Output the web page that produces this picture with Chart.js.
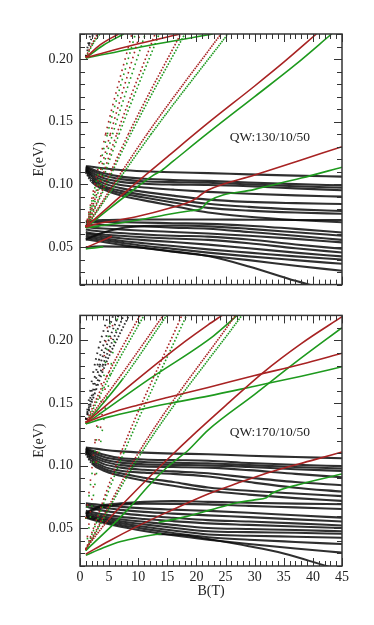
<!DOCTYPE html>
<html>
<head>
<meta charset="utf-8">
<title>Landau levels QW</title>
<script src="https://cdn.jsdelivr.net/npm/chart.js@4.4.1/dist/chart.umd.min.js"></script>
<style>
  html, body { margin: 0; padding: 0; background: #fff; }
  body { width: 374px; height: 625px; position: relative; overflow: hidden; }
  canvas { position: absolute; left: 0; }
  #topChart { top: 0; }
  #botChart { top: 300px; }
</style>
</head>
<body>
<canvas id="topChart" width="374" height="300"></canvas>
<canvas id="botChart" width="374" height="325"></canvas>
<script>
// Axis ticks
const xTicks = [0, 5, 10, 15, 20, 25, 30, 35, 40, 45];
const yTicks = [0.05, 0.10, 0.15, 0.20];

const holeB = [1, 2, 4, 7, 11, 16, 22, 29, 37, 45];

// QW:130/10/50 - black levels, E (eV) at holeB
const topBlack = [
  [0.1145, 0.1140, 0.1128, 0.1115, 0.1105, 0.1097, 0.1090, 0.1080, 0.1070, 0.1062],
  [0.1140, 0.1122, 0.1090, 0.1062, 0.1045, 0.1035, 0.1028, 0.1015, 0.1002, 0.0992],
  [0.1136, 0.1110, 0.1072, 0.1042, 0.1025, 0.1018, 0.1013, 0.1000, 0.0985, 0.0973],
  [0.1130, 0.1095, 0.1050, 0.1020, 0.1005, 0.0998, 0.0995, 0.0985, 0.0968, 0.0953],
  [0.1124, 0.1080, 0.1030, 0.0995, 0.0975, 0.0958, 0.0940, 0.0925, 0.0912, 0.0902],
  [0.1117, 0.1065, 0.1010, 0.0970, 0.0940, 0.0910, 0.0878, 0.0860, 0.0850, 0.0843],
  [0.1110, 0.1050, 0.0990, 0.0948, 0.0915, 0.0880, 0.0845, 0.0820, 0.0800, 0.0787],
  [0.1102, 0.1035, 0.0975, 0.0930, 0.0895, 0.0855, 0.0812, 0.0790, 0.0775, 0.0766],
  [0.1095, 0.1020, 0.0960, 0.0912, 0.0872, 0.0828, 0.0775, 0.0742, 0.0716, 0.0697],
  [0.0705, 0.0710, 0.0715, 0.0718, 0.0720, 0.0720, 0.0720, 0.0718, 0.0716, 0.0715],
  [0.0695, 0.0700, 0.0700, 0.0698, 0.0695, 0.0690, 0.0685, 0.0670, 0.0645, 0.0616],
  [0.0680, 0.0680, 0.0675, 0.0670, 0.0665, 0.0655, 0.0646, 0.0620, 0.0590, 0.0557],
  [0.0660, 0.0655, 0.0648, 0.0640, 0.0630, 0.0620, 0.0608, 0.0590, 0.0565, 0.0537],
  [0.0640, 0.0632, 0.0622, 0.0612, 0.0600, 0.0590, 0.0583, 0.0560, 0.0520, 0.0486],
  [0.0620, 0.0610, 0.0600, 0.0590, 0.0578, 0.0568, 0.0557, 0.0530, 0.0490, 0.0456],
  [0.0605, 0.0600, 0.0585, 0.0570, 0.0555, 0.0540, 0.0519, 0.0490, 0.0455, 0.0425],
  [0.0590, 0.0585, 0.0570, 0.0550, 0.0530, 0.0508, 0.0481, 0.0455, 0.0425, 0.0400],
  [0.0575, 0.0570, 0.0555, 0.0535, 0.0510, 0.0485, 0.0455, 0.0425, 0.0395, 0.0366],
  [0.0560, 0.0555, 0.0540, 0.0518, 0.0492, 0.0462, 0.0430, 0.0395, 0.0350, 0.0310],
  [0.0560, 0.0580, 0.0615, 0.0650, 0.0668, 0.0672, 0.0665, 0.0645, 0.0618, 0.0590],
  [0.0500, 0.0502, 0.0505, 0.0503, 0.0492, 0.0465, 0.0428, 0.0345, 0.0230, 0.0130]
];

// QW:130/10/50 - electron-like levels as [B, E] points
const topRed = [
  [[1, 0.2012], [9, 0.2110], [17.2, 0.2200]],
  [[1, 0.2012], [3.5, 0.2115], [6.6, 0.2200]],
  [[1, 0.2015], [2.0, 0.2115], [3.0, 0.2200]],
  [[1, 0.0660], [4.4, 0.1400], [8.9, 0.2200]],
  [[1, 0.0660], [5.2, 0.1400], [10.3, 0.2200]],
  [[1, 0.0660], [6.3, 0.1400], [12.9, 0.2200]],
  [[1, 0.0660], [8.3, 0.1400], [17.3, 0.2200]],
  [[1, 0.0660], [11.5, 0.1400], [24.2, 0.2200]],
  [[1, 0.0660], [5, 0.0825], [10, 0.1025], [15, 0.1220], [22, 0.1490], [30, 0.1785], [35, 0.1975], [40.6, 0.2200]],
  [[1, 0.0660], [3, 0.0685], [6, 0.0710], [10, 0.0745], [15, 0.0805], [19.5, 0.0875], [21, 0.0925], [22, 0.0955], [30, 0.1075], [38, 0.1195], [45, 0.1300]],
  [[1, 0.0495], [3, 0.0535], [5.5, 0.0585]]
];
const topGreen = [
  [[1, 0.2007], [12, 0.2110], [22.8, 0.2200]],
  [[1, 0.2008], [4, 0.2110], [7.5, 0.2200]],
  [[1, 0.2010], [2.2, 0.2120], [3.4, 0.2200]],
  [[1, 0.0655], [4.7, 0.1400], [9.5, 0.2200]],
  [[1, 0.0655], [5.6, 0.1400], [11.2, 0.2200]],
  [[1, 0.0655], [6.7, 0.1400], [13.6, 0.2200]],
  [[1, 0.0655], [8.7, 0.1400], [18.0, 0.2200]],
  [[1, 0.0655], [12.2, 0.1400], [25.4, 0.2200]],
  [[1, 0.0655], [5, 0.0805], [10, 0.0985], [12.5, 0.1070], [14, 0.1110], [16, 0.1185], [22, 0.1410], [30, 0.1700], [37, 0.1955], [43.2, 0.2200]],
  [[1, 0.0655], [3, 0.0665], [6, 0.0685], [10, 0.0715], [15, 0.0760], [19, 0.0790], [20.8, 0.0805], [22, 0.0863], [30, 0.0960], [38, 0.1050], [45, 0.1137]],
  [[1, 0.0485], [2.5, 0.0493], [4, 0.0502]]
];
const topDark = [
  [[1, 0.2020], [1.6, 0.2120], [2.3, 0.2200]],
  [[1, 0.2020], [1.4, 0.2120], [1.8, 0.2200]]
];

// QW:170/10/50 - black levels, E (eV) at holeB
const botBlack = [
  [0.1145, 0.1140, 0.1128, 0.1115, 0.1105, 0.1097, 0.1092, 0.1080, 0.1070, 0.1060],
  [0.1140, 0.1122, 0.1090, 0.1062, 0.1050, 0.1045, 0.1040, 0.1022, 0.1008, 0.0997],
  [0.1136, 0.1110, 0.1072, 0.1045, 0.1030, 0.1024, 0.1020, 0.1005, 0.0990, 0.0978],
  [0.1130, 0.1095, 0.1052, 0.1025, 0.1012, 0.1007, 0.1003, 0.0990, 0.0972, 0.0959],
  [0.1124, 0.1080, 0.1035, 0.1005, 0.0995, 0.0990, 0.0985, 0.0965, 0.0935, 0.0908],
  [0.1117, 0.1065, 0.1015, 0.0985, 0.0968, 0.0955, 0.0940, 0.0905, 0.0870, 0.0845],
  [0.1110, 0.1050, 0.0995, 0.0960, 0.0945, 0.0935, 0.0914, 0.0870, 0.0825, 0.0794],
  [0.1102, 0.1035, 0.0978, 0.0940, 0.0905, 0.0870, 0.0826, 0.0800, 0.0778, 0.0758],
  [0.1095, 0.1020, 0.0962, 0.0920, 0.0880, 0.0840, 0.0800, 0.0770, 0.0742, 0.0720],
  [0.0620, 0.0650, 0.0685, 0.0700, 0.0712, 0.0718, 0.0712, 0.0705, 0.0698, 0.0693],
  [0.0612, 0.0640, 0.0672, 0.0690, 0.0697, 0.0696, 0.0692, 0.0680, 0.0668, 0.0655],
  [0.0700, 0.0695, 0.0685, 0.0672, 0.0660, 0.0650, 0.0640, 0.0625, 0.0605, 0.0586],
  [0.0690, 0.0680, 0.0665, 0.0648, 0.0632, 0.0618, 0.0604, 0.0590, 0.0572, 0.0555],
  [0.0675, 0.0662, 0.0642, 0.0622, 0.0603, 0.0585, 0.0566, 0.0555, 0.0540, 0.0523],
  [0.0640, 0.0630, 0.0612, 0.0592, 0.0575, 0.0558, 0.0540, 0.0528, 0.0515, 0.0503],
  [0.0625, 0.0615, 0.0595, 0.0573, 0.0552, 0.0528, 0.0503, 0.0495, 0.0487, 0.0477],
  [0.0610, 0.0600, 0.0580, 0.0557, 0.0532, 0.0505, 0.0477, 0.0470, 0.0465, 0.0457],
  [0.0600, 0.0590, 0.0567, 0.0542, 0.0513, 0.0483, 0.0452, 0.0442, 0.0434, 0.0426],
  [0.0592, 0.0580, 0.0555, 0.0527, 0.0496, 0.0463, 0.0430, 0.0410, 0.0392, 0.0375],
  [0.0585, 0.0572, 0.0545, 0.0513, 0.0480, 0.0445, 0.0410, 0.0375, 0.0340, 0.0307]
];

// QW:170/10/50 - electron-like levels as [B, E] points
const botRed = [
  [[1, 0.1345], [5, 0.1418], [10, 0.1485], [15, 0.1545], [22, 0.1625], [30, 0.1720], [38, 0.1810], [45, 0.1898]],
  [[1, 0.1345], [10, 0.1695], [18, 0.1990], [22, 0.2125], [24.4, 0.2200]],
  [[1, 0.1345], [5, 0.1750], [10.3, 0.2200]],
  [[1, 0.1345], [7, 0.1720], [14.3, 0.2200]],
  [[1, 0.0330], [3, 0.1100], [5.8, 0.2200]],
  [[1, 0.0330], [7, 0.1100], [17.5, 0.2200]],
  [[1, 0.0330], [10, 0.1100], [26.7, 0.2200]],
  [[1, 0.0580], [2.6, 0.1200], [4.9, 0.2200]],
  [[1, 0.0340], [5, 0.0575], [10, 0.0820], [15, 0.1050], [20, 0.1270], [25, 0.1480], [31.5, 0.1746], [38, 0.1975], [45, 0.2190]],
  [[1, 0.0295], [5, 0.0400], [10, 0.0520], [15, 0.0630], [22, 0.0775], [27, 0.0860], [33, 0.0955], [40, 0.1045], [45, 0.1110]]
];
const botGreen = [
  [[1, 0.1335], [5, 0.1390], [10, 0.1445], [15, 0.1495], [22, 0.1556], [30, 0.1635], [38, 0.1715], [45, 0.1790]],
  [[1, 0.1335], [12, 0.1695], [22.9, 0.2035], [27, 0.2200]],
  [[1, 0.1335], [5.3, 0.1730], [11, 0.2200]],
  [[1, 0.1335], [7.3, 0.1690], [14.9, 0.2200]],
  [[1, 0.0325], [3.3, 0.1100], [6.5, 0.2200]],
  [[1, 0.0325], [7.5, 0.1100], [18.3, 0.2200]],
  [[1, 0.0325], [10.5, 0.1100], [27.8, 0.2200]],
  [[1, 0.0575], [2.8, 0.1200], [5.3, 0.2200]],
  [[1, 0.0325], [5, 0.0500], [8, 0.0640], [12, 0.0850], [15, 0.0990], [17, 0.1065], [18.5, 0.1120], [22, 0.1285], [30, 0.1570], [37, 0.1825], [45, 0.2102]],
  [[1, 0.0285], [4, 0.0345], [7, 0.0395], [10, 0.0428], [13, 0.0452], [14, 0.0456]],
  [[13.5, 0.0548], [18, 0.0592], [22, 0.0642], [27, 0.0705], [30, 0.0728], [32, 0.0745], [33, 0.0780], [38, 0.0855], [45, 0.0934]]
];
const botDark = [
  [[1, 0.1370], [2.5, 0.1800], [4.8, 0.2200]],
  [[1, 0.1370], [3.0, 0.1800], [5.7, 0.2200]],
  [[1, 0.1370], [3.4, 0.1800], [6.6, 0.2200]],
  [[1, 0.1370], [3.9, 0.1800], [7.5, 0.2200]],
  [[1, 0.1370], [4.3, 0.1800], [8.4, 0.2200]],
  [[13, 0.0455], [18, 0.0445], [22, 0.0415], [29, 0.0358], [35, 0.0300], [42, 0.0205], [45, 0.0165]]
];

Chart.defaults.font.family = '"Liberation Serif", "Times New Roman", serif';
Chart.defaults.font.size = 14;
Chart.defaults.color = '#222';

const RED = '#a82323', GREEN = '#1e9a1e', BLACK = 'rgba(10,10,10,0.85)';
const dotStepPx = 1.5; // on-screen spacing of the computed field steps

// steep stretches show up as separate dots, flat ones merge into a line
function dotted(ctx) {
  const dx = ctx.p1.x - ctx.p0.x, dy = ctx.p1.y - ctx.p0.y;
  if (dx <= 0) return undefined;
  const gap = dotStepPx * Math.hypot(dx, dy) / dx;
  return gap > 2.4 ? [1.6, gap - 1.6] : undefined;
}

function level(points, color, width, order) {
  return {
    data: points,
    borderColor: color,
    backgroundColor: color,
    borderWidth: width,
    showLine: true,
    pointRadius: 0,
    pointHoverRadius: 0,
    cubicInterpolationMode: 'monotone',
    order: order,
    segment: { borderDash: dotted }
  };
}
const gridPts = row => row.map((e, i) => ({ x: holeB[i], y: e }));
const pairPts = rows => rows.map(([b, e]) => ({ x: b, y: e }));

function buildSets(black, dark, red, green) {
  return [
    ...red.map(r => level(pairPts(r), RED, 1.6, 0)),
    ...green.map(r => level(pairPts(r), GREEN, 1.6, 1)),
    ...dark.map(r => level(pairPts(r), BLACK, 1.9, 2)),
    ...black.map(r => level(gridPts(r), BLACK, 2.1, 3))
  ];
}

// frame with inward ticks on all sides, plus the sample label
const frameTicks = {
  id: 'frameTicks',
  afterDatasetsDraw(chart, args, opts) {
    const { ctx, chartArea: a, scales: { x, y } } = chart;
    ctx.save();
    ctx.strokeStyle = '#333';
    ctx.lineWidth = 1;
    ctx.beginPath();
    for (let b = 0; b <= 45; b++) {
      const px = Math.round(x.getPixelForValue(b)) + 0.5;
      const len = b % 5 === 0 ? 8 : 5;
      ctx.moveTo(px, a.bottom); ctx.lineTo(px, a.bottom - len);
      ctx.moveTo(px, a.top); ctx.lineTo(px, a.top + len);
    }
    for (let k = 2; k <= 22; k++) {
      const py = Math.round(y.getPixelForValue(k / 100)) + 0.5;
      const len = k % 5 === 0 ? 8 : 5;
      ctx.moveTo(a.left, py); ctx.lineTo(a.left + len, py);
      ctx.moveTo(a.right, py); ctx.lineTo(a.right - len, py);
    }
    ctx.stroke();
    ctx.lineWidth = 1.5;
    ctx.strokeRect(a.left, a.top, a.right - a.left, a.bottom - a.top);
    ctx.fillStyle = '#222';
    ctx.font = '13.5px "Liberation Serif", serif';
    ctx.textBaseline = 'middle';
    ctx.textAlign = 'left';
    ctx.fillText(opts.text, x.getPixelForValue(opts.b), y.getPixelForValue(opts.e));
    ctx.restore();
  }
};

function panelOptions(showX, label) {
  return {
    responsive: false,
    animation: false,
    devicePixelRatio: 1,
    events: [],
    layout: { padding: { top: showX ? 4 : 34, right: 32, left: 0, bottom: 0 } },
    plugins: { legend: { display: false }, tooltip: { enabled: false }, frameTicks: label },
    scales: {
      x: {
        type: 'linear', min: 0, max: 45,
        grid: { display: false, drawTicks: false },
        border: { display: false },
        ticks: { display: showX, padding: 3, autoSkip: false, maxRotation: 0 },
        afterBuildTicks: s => { s.ticks = xTicks.map(v => ({ value: v })); },
        title: { display: showX, text: 'B(T)', padding: { top: 0, bottom: 25 } },
        afterFit: s => { s.height = showX ? 59 : 4; }
      },
      y: {
        type: 'linear', min: 0.02, max: 0.22,
        grid: { display: false, drawTicks: false },
        border: { display: false },
        ticks: { padding: 7, autoSkip: false, callback: v => v.toFixed(2) },
        afterBuildTicks: s => { s.ticks = yTicks.map(v => ({ value: v })); },
        title: { display: true, text: 'E(eV)', padding: { top: 31, bottom: 0 } },
        afterFit: s => { s.width = 80; }
      }
    }
  };
}

new Chart(document.getElementById('topChart'), {
  type: 'scatter',
  data: { datasets: buildSets(topBlack, topDark, topRed, topGreen) },
  options: panelOptions(false, { text: 'QW:130/10/50', b: 25.7, e: 0.1372 }),
  plugins: [frameTicks]
});

new Chart(document.getElementById('botChart'), {
  type: 'scatter',
  data: { datasets: buildSets(botBlack, botDark, botRed, botGreen) },
  options: panelOptions(true, { text: 'QW:170/10/50', b: 25.7, e: 0.1262 }),
  plugins: [frameTicks]
});
</script>
</body>
</html>
